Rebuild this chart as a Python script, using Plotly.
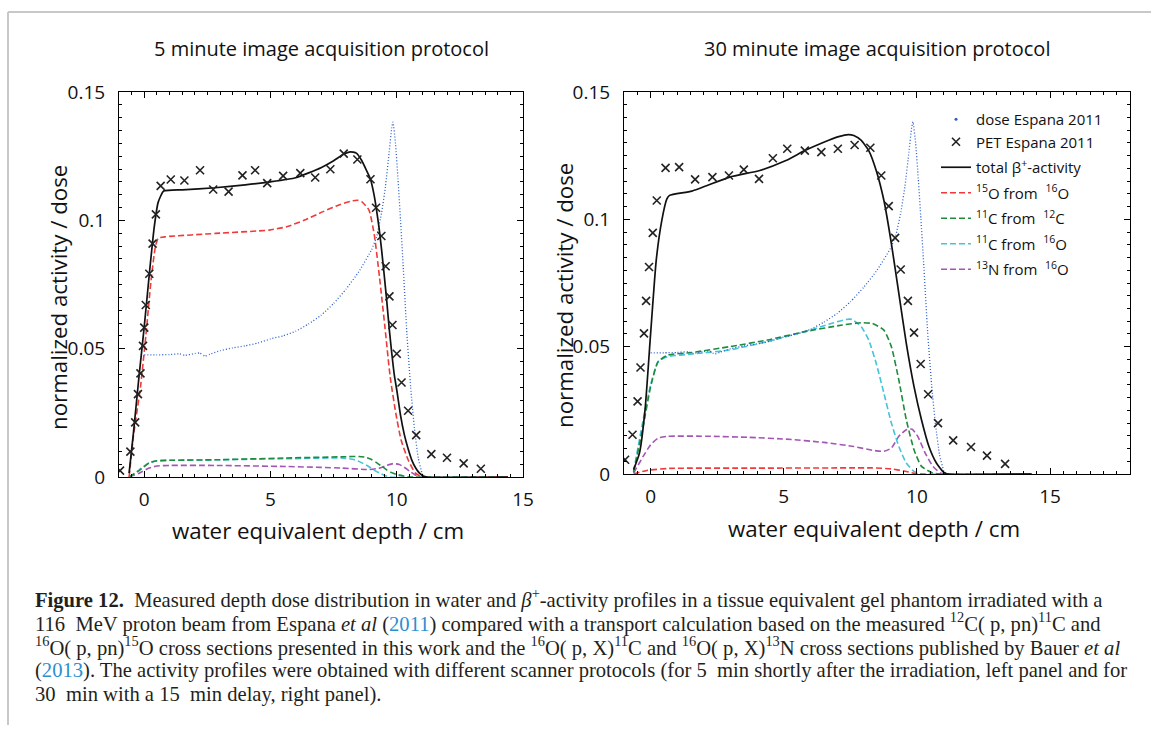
import plotly.graph_objects as go

W, H = 1151, 729

# ---------------- data ----------------
# dose Espana 2011 (same curve in both panels)
dose_x = [0.0, 0.5, 1.0, 1.4, 1.6, 2.0, 2.2, 2.4, 2.6, 3.0, 3.5, 4.0, 4.5, 5.0, 5.5, 6.0, 6.5, 7.0, 7.5,
          8.0, 8.5, 9.0, 9.2, 9.4, 9.55, 9.7, 9.8, 9.85, 9.95, 10.05, 10.15, 10.25, 10.4, 10.55, 10.7,
          10.85, 11.0, 11.1]
dose_y = [0.0476, 0.0476, 0.0477, 0.0480, 0.0474, 0.0481, 0.0483, 0.0471, 0.0478, 0.0492, 0.0503,
          0.0511, 0.0522, 0.0538, 0.0550, 0.0568, 0.0596, 0.0630, 0.0676, 0.0733, 0.0800, 0.0885,
          0.0935, 0.1030, 0.1130, 0.1265, 0.1360, 0.1383, 0.1300, 0.1160, 0.1000, 0.0830, 0.0560,
          0.0350, 0.0190, 0.0075, 0.0015, 0.0]

# ---- 5 minute protocol (left panel) ----
pet5_x = [-0.96, -0.55, -0.36, -0.25, -0.15, -0.05, 0.0, 0.06, 0.20, 0.33, 0.46, 0.65, 1.05, 1.59,
          2.21, 2.73, 3.34, 3.89, 4.39, 4.87, 5.50, 6.18, 6.77, 7.37, 7.90, 8.44, 8.96, 9.18, 9.39,
          9.56, 9.71, 9.83, 10.0, 10.19, 10.45, 10.77, 11.37, 11.99, 12.65, 13.33]
pet5_y = [0.0025, 0.0099, 0.0213, 0.0323, 0.0404, 0.0511, 0.0582, 0.0670, 0.0792, 0.0909, 0.1023,
          0.1134, 0.1159, 0.1155, 0.1195, 0.1120, 0.1112, 0.1175, 0.1195, 0.1145, 0.1173, 0.1184,
          0.1167, 0.1199, 0.1260, 0.1237, 0.1160, 0.1049, 0.0939, 0.0821, 0.0704, 0.0592, 0.0480,
          0.0368, 0.0258, 0.0163, 0.0089, 0.0075, 0.0053, 0.0032]

tot5_x = [-0.6, -0.43, -0.22, 0.0, 0.2, 0.39, 0.55, 0.77, 1.5, 2.8, 4.0, 5.0, 6.0, 7.0, 7.5, 7.9,
          8.15, 8.4, 8.6, 8.8, 8.96, 9.1, 9.2, 9.3, 9.4, 9.5, 9.6, 9.7, 9.8, 9.9, 10.02, 10.15, 10.3,
          10.45, 10.6, 10.75, 10.9, 11.05, 11.2, 14.4]
tot5_y = [0.0015, 0.017, 0.038, 0.0586, 0.079, 0.097, 0.107, 0.1114, 0.1119, 0.1127, 0.1138, 0.1150,
          0.1166, 0.1205, 0.1232, 0.1258, 0.1267, 0.1262, 0.1235, 0.1195, 0.1160, 0.110, 0.104,
          0.097, 0.0885, 0.0790, 0.069, 0.058, 0.0485, 0.040, 0.0327, 0.024, 0.0165, 0.011, 0.0065,
          0.0035, 0.0015, 0.0004, 0.0, 0.0]

o15_5_x = [-0.6, -0.43, -0.15, 0.06, 0.27, 0.44, 0.55, 0.84, 2.82, 4.94, 5.64, 6.35, 7.06, 7.76, 8.26,
           8.45, 8.61, 8.9, 9.11, 9.32, 9.53, 9.74, 9.96, 10.17, 10.45, 10.73, 11.0, 14.4]
o15_5_y = [0.0, 0.0158, 0.035, 0.0547, 0.0767, 0.0897, 0.093, 0.0936, 0.0949, 0.0962, 0.0975, 0.1001,
           0.1033, 0.1062, 0.1076, 0.1078, 0.1073, 0.104, 0.0944, 0.0776, 0.0586, 0.039, 0.025,
           0.0145, 0.0067, 0.0016, 0.0, 0.0]

c11c_5_x = [-0.6, -0.2, 0.2, 0.5, 1.0, 2.8, 5.6, 8.0, 8.5, 8.75, 9.0, 9.2, 9.4, 9.6, 9.8, 10.0, 10.3,
            10.5, 14.4]
c11c_5_y = [0.0, 0.0025, 0.0055, 0.0063, 0.0065, 0.0067, 0.0074, 0.0079, 0.0080, 0.0077, 0.0068,
            0.0056, 0.0042, 0.0028, 0.0017, 0.001, 0.0003, 0.0, 0.0]

c11o_5_x = [-0.6, -0.2, 0.2, 0.5, 1.0, 2.8, 5.6, 7.8, 8.3, 8.6, 8.9, 9.1, 9.3, 9.5, 9.75, 14.4]
c11o_5_y = [0.0, 0.0028, 0.0056, 0.0063, 0.0065, 0.0067, 0.0071, 0.0074, 0.0068, 0.0056, 0.004,
            0.0027, 0.0016, 0.0007, 0.0, 0.0]

n13_5_x = [-0.6, -0.2, 0.2, 0.5, 1.0, 2.8, 5.6, 7.8, 8.9, 9.3, 9.6, 9.85, 10.1, 10.3, 10.5, 10.7,
           10.9, 14.4]
n13_5_y = [0.0, 0.0015, 0.0035, 0.0043, 0.0045, 0.0045, 0.0041, 0.0035, 0.0029, 0.0034, 0.0045,
           0.0052, 0.0049, 0.0038, 0.0023, 0.001, 0.0, 0.0]

# ---- 30 minute protocol (right panel) ----
pet30_x = [-0.96, -0.68, -0.49, -0.38, -0.25, -0.17, -0.06, 0.08, 0.23, 0.56, 1.07, 1.67, 2.32, 2.94,
           3.50, 4.07, 4.59, 5.13, 5.79, 6.41, 7.03, 7.66, 8.25, 8.66, 8.94, 9.18, 9.39, 9.66, 9.89,
           10.14, 10.42, 10.79, 11.36, 12.03, 12.63, 13.31]
pet30_y = [0.0056, 0.0154, 0.0285, 0.0418, 0.0552, 0.0680, 0.0813, 0.0947, 0.1074, 0.1202, 0.1205,
           0.1157, 0.1166, 0.1172, 0.1195, 0.1159, 0.1240, 0.1277, 0.1270, 0.1264, 0.1277, 0.1292,
           0.1281, 0.1172, 0.1052, 0.0927, 0.0803, 0.0680, 0.0555, 0.0432, 0.0313, 0.0200, 0.0132,
           0.0106, 0.0072, 0.0040]

tot30_x = [-0.64, -0.42, -0.21, 0.0, 0.21, 0.42, 0.61, 0.71, 1.55, 2.97, 4.1, 5.08, 5.79, 6.5, 7.06,
           7.42, 7.63, 7.91, 8.19, 8.47, 8.76, 9.04, 9.32, 9.6, 9.89, 10.17, 10.45, 10.73, 11.0,
           11.15, 14.3]
tot30_y = [0.0017, 0.0082, 0.0252, 0.0552, 0.0839, 0.0996, 0.108, 0.1094, 0.1111, 0.1166, 0.1192,
           0.1231, 0.1270, 0.1303, 0.1325, 0.1333, 0.1329, 0.131, 0.127, 0.1192, 0.1074, 0.0905,
           0.0709, 0.0513, 0.0343, 0.0213, 0.0108, 0.0043, 0.0007, 0.0, 0.0]

o15_30_x = [-0.64, -0.14, 0.71, 4.0, 7.5, 8.3, 9.04, 9.6, 10.03, 14.3]
o15_30_y = [0.0, 0.0014, 0.0022, 0.0023, 0.0024, 0.0024, 0.002, 0.001, 0.0, 0.0]

c11c_30_x = [-0.64, -0.28, 0.0, 0.28, 0.64, 1.55, 2.97, 4.38, 5.79, 7.2, 7.91, 8.33, 8.76, 9.04, 9.32,
             9.6, 9.89, 10.17, 10.6, 10.9, 14.3]
c11c_30_y = [0.0007, 0.0187, 0.0343, 0.0441, 0.0467, 0.0477, 0.05, 0.0526, 0.0559, 0.0585, 0.0594,
             0.0591, 0.0565, 0.05, 0.0369, 0.0213, 0.0095, 0.003, 0.0004, 0.0, 0.0]

c11o_30_x = [-0.64, -0.28, 0.0, 0.28, 0.64, 1.55, 2.97, 4.38, 5.79, 6.78, 7.34, 7.56, 7.91, 8.19, 8.47,
             8.76, 9.04, 9.32, 9.6, 9.89, 10.17, 14.3]
c11o_30_y = [0.001, 0.0213, 0.035, 0.0441, 0.0461, 0.0471, 0.0487, 0.052, 0.0559, 0.0591, 0.0607,
             0.0607, 0.0578, 0.0526, 0.0435, 0.0317, 0.02, 0.0108, 0.0043, 0.001, 0.0, 0.0]

n13_30_x = [-0.64, -0.28, 0.0, 0.28, 0.64, 2.26, 3.67, 5.08, 6.5, 7.63, 8.33, 8.76, 9.04, 9.32, 9.6,
            9.82, 10.03, 10.31, 10.6, 10.87, 11.05, 14.3]
n13_30_y = [0.0004, 0.0069, 0.0115, 0.0141, 0.0148, 0.0148, 0.0144, 0.0137, 0.0124, 0.0108, 0.0093,
            0.0089, 0.0102, 0.0148, 0.0174, 0.0176, 0.0148, 0.0082, 0.003, 0.0004, 0.0, 0.0]

x_ticks = [0, 5, 10, 15]
y_ticks = [0, 0.05, 0.1, 0.15]
y_ticktext = ["0", "0.05", "0.1", "0.15"]

panel_titles = ["5 minute image acquisition protocol", "30 minute image acquisition protocol"]
x_title = "water equivalent depth / cm"
y_title = "normalized activity / dose"

legend_names = ["dose Espana 2011", "PET Espana 2011", "total β<sup>+</sup>-activity",
                "<sup>15</sup>O from  <sup>16</sup>O", "<sup>11</sup>C from  <sup>12</sup>C",
                "<sup>11</sup>C from  <sup>16</sup>O", "<sup>13</sup>N from  <sup>16</sup>O"]

caption_lines = [
    "<b>Figure 12.</b>  Measured depth dose distribution in water and <i>β</i><sup>+</sup>-activity profiles in a tissue equivalent gel phantom irradiated with a",
    "116  MeV proton beam from Espana <i>et al</i> (<span style='color:#2a8fd0'>2011</span>) compared with a transport calculation based on the measured <sup>12</sup>C( p, pn)<sup>11</sup>C and",
    "<sup>16</sup>O( p, pn)<sup>15</sup>O cross sections presented in this work and the <sup>16</sup>O( p, X)<sup>11</sup>C and <sup>16</sup>O( p, X)<sup>13</sup>N cross sections published by Bauer <i>et al</i>",
    "(<span style='color:#2a8fd0'>2013</span>). The activity profiles were obtained with different scanner protocols (for 5  min shortly after the irradiation, left panel and for",
    "30  min with a 15  min delay, right panel).",
]

# ---------------- styles ----------------
SANS = "Open Sans"
SERIF = "Liberation Serif"
C_DOSE = "#2b5fcf"
C_RED = "#f03a3a"
C_GREEN = "#1e8c3c"
C_CYAN = "#45c3d8"
C_PURPLE = "#a455b5"
DASH = "6px,3px"


def px(xp):
    return xp / W


def py(yp):
    return 1 - yp / H


fig = go.Figure()

panels = [
    dict(xa="x", ya="y", pet=(pet5_x, pet5_y), tot=(tot5_x, tot5_y), o15=(o15_5_x, o15_5_y),
         c11c=(c11c_5_x, c11c_5_y), c11o=(c11o_5_x, c11o_5_y), n13=(n13_5_x, n13_5_y), legend=False),
    dict(xa="x2", ya="y2", pet=(pet30_x, pet30_y), tot=(tot30_x, tot30_y), o15=(o15_30_x, o15_30_y),
         c11c=(c11c_30_x, c11c_30_y), c11o=(c11o_30_x, c11o_30_y), n13=(n13_30_x, n13_30_y), legend=True),
]

RANK = {"dose": 1, "pet": 2, "tot": 3, "o15": 4, "c11c": 5, "c11o": 6, "n13": 7}
GROUP = {"dose": "g1", "pet": "g1", "tot": "g2", "o15": "g3", "c11c": "g4", "c11o": "g5", "n13": "g6"}

for p in panels:
    common = dict(xaxis=p["xa"], yaxis=p["ya"], hoverinfo="skip")
    for key, col, nm in [("n13", C_PURPLE, legend_names[6]), ("c11o", C_CYAN, legend_names[5]),
                         ("c11c", C_GREEN, legend_names[4]), ("o15", C_RED, legend_names[3])]:
        xs, ys = p[key]
        fig.add_trace(go.Scatter(x=xs, y=ys, mode="lines", name=nm, showlegend=p["legend"],
                                 legendgroup=GROUP[key], legendrank=RANK[key],
                                 line=dict(color=col, width=1.6, dash=DASH, shape="spline", smoothing=0.5),
                                 **common))
    fig.add_trace(go.Scatter(x=dose_x, y=dose_y, mode="lines", name=legend_names[0], showlegend=False,
                             legendgroup=GROUP["dose"],
                             line=dict(color=C_DOSE, width=1.3, dash="1px,2px", shape="spline", smoothing=0.4),
                             **common))
    fig.add_trace(go.Scatter(x=p["tot"][0], y=p["tot"][1], mode="lines", name=legend_names[2],
                             showlegend=p["legend"], legendgroup=GROUP["tot"], legendrank=RANK["tot"],
                             line=dict(color="#111111", width=1.7, shape="spline", smoothing=0.5),
                             **common))
    fig.add_trace(go.Scatter(x=p["pet"][0], y=p["pet"][1], mode="markers", name=legend_names[1],
                             showlegend=p["legend"], legendgroup=GROUP["pet"], legendrank=RANK["pet"],
                             marker=dict(symbol="x-thin", size=8, color="#222222",
                                         line=dict(width=1.6, color="#222222")),
                             **common))

# legend entry for the dose curve: drawn as a single dot like the reference key
fig.add_trace(go.Scatter(x=[None], y=[None], mode="markers", name=legend_names[0], xaxis="x2", yaxis="y2",
                         legendgroup=GROUP["dose"], legendrank=RANK["dose"],
                         marker=dict(symbol="circle", size=3, color=C_DOSE), hoverinfo="skip"))

axis_common = dict(showline=True, linecolor="black", linewidth=1, mirror="allticks",
                   ticks="inside", ticklen=6, tickwidth=1, tickcolor="black",
                   showgrid=False, zeroline=False, automargin=False,
                   tickfont=dict(family=SANS, size=19, color="#111111"))

L_left, L_right = 119, 523
R_left, R_right = 624, 1130
top = 92
L_bottom, R_bottom = 477, 474

fig.update_layout(
    template="none",
    width=W, height=H,
    margin=dict(l=0, r=0, t=0, b=0, pad=0, autoexpand=False),
    paper_bgcolor="white", plot_bgcolor="white",
    font=dict(family=SANS, color="#111111"),
    xaxis=dict(domain=[px(L_left), px(L_right)], range=[-1, 15], tickvals=x_ticks,
               minor=dict(dtick=0.5, tick0=0, ticks="inside", ticklen=3, tickcolor="black"),
               ticklabelstandoff=5, anchor="y", **axis_common),
    yaxis=dict(domain=[py(L_bottom), py(top)], range=[0, 0.15], tickvals=y_ticks, ticktext=y_ticktext,
               minor=dict(dtick=0.005, tick0=0, ticks="inside", ticklen=3, tickcolor="black"),
               ticklabelstandoff=9, anchor="x", **axis_common),
    xaxis2=dict(domain=[px(R_left), px(R_right)], range=[-1, 18], tickvals=x_ticks,
                minor=dict(dtick=0.5, tick0=0, ticks="inside", ticklen=3, tickcolor="black"),
                ticklabelstandoff=5, anchor="y2", **axis_common),
    yaxis2=dict(domain=[py(R_bottom), py(top)], range=[0, 0.15], tickvals=y_ticks, ticktext=y_ticktext,
                minor=dict(dtick=0.005, tick0=0, ticks="inside", ticklen=3, tickcolor="black"),
                ticklabelstandoff=9, anchor="x2", **axis_common),
    showlegend=True,
    legend=dict(x=px(936), y=py(103), xanchor="left", yanchor="top", bgcolor="rgba(0,0,0,0)",
                borderwidth=0, font=dict(family=SANS, size=15, color="#111111"), tracegroupgap=3,
                itemwidth=30, traceorder="grouped"),
)

annotations = []
# panel titles
annotations.append(dict(x=px((L_left + L_right) / 2), y=py(48), text=panel_titles[0], showarrow=False,
                        xref="paper", yref="paper", xanchor="center", yanchor="middle",
                        font=dict(family=SANS, size=20, color="#111111")))
annotations.append(dict(x=px((R_left + R_right) / 2), y=py(48), text=panel_titles[1], showarrow=False,
                        xref="paper", yref="paper", xanchor="center", yanchor="middle",
                        font=dict(family=SANS, size=20, color="#111111")))
# axis titles
for cx, cy in [(318, 530), (874, 528)]:
    annotations.append(dict(x=px(cx), y=py(cy), text=x_title, showarrow=False, xref="paper", yref="paper",
                            xanchor="center", yanchor="middle",
                            font=dict(family=SANS, size=22.3, color="#111111")))
for cx, cy in [(58, 298), (564, 296)]:
    annotations.append(dict(x=px(cx), y=py(cy), text=y_title, showarrow=False, xref="paper", yref="paper",
                            xanchor="center", yanchor="middle", textangle=-90,
                            font=dict(family=SANS, size=22.3, color="#111111")))
# caption
cap_y = [598, 622, 646, 670, 694]
for line, yy in zip(caption_lines, cap_y):
    annotations.append(dict(x=px(33), y=py(yy), text=line, showarrow=False, xref="paper", yref="paper",
                            xanchor="left", yanchor="middle",
                            font=dict(family=SERIF, size=20.6, color="#231f20")))
fig.update_layout(annotations=annotations)

# thin grey frame of the figure page
fig.add_shape(type="line", xref="paper", yref="paper", x0=px(8), x1=1, y0=py(12), y1=py(12),
              line=dict(color="#c8c8c8", width=2))
fig.add_shape(type="line", xref="paper", yref="paper", x0=px(8), x1=px(8), y0=py(12), y1=py(725),
              line=dict(color="#c8c8c8", width=2))

fig.write_html("out.html")
